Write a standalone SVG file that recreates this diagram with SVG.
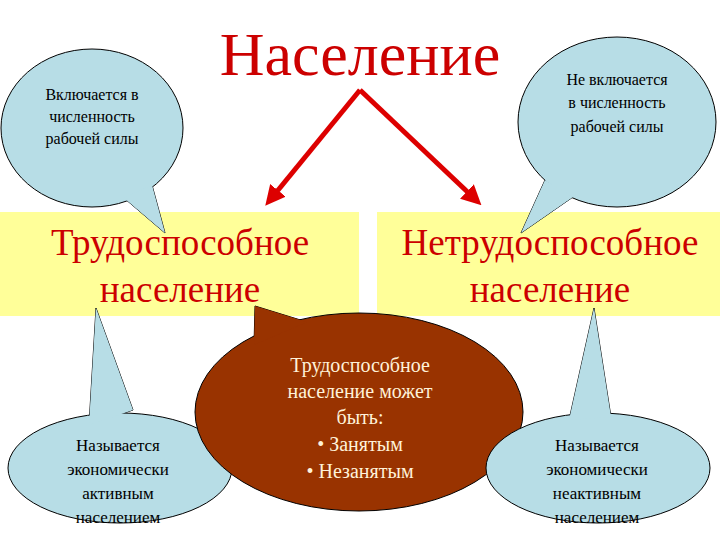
<svg xmlns="http://www.w3.org/2000/svg" width="720" height="540" viewBox="0 0 720 540" font-family="'Liberation Serif', 'Times New Roman', Tinos, 'DejaVu Serif', serif">
<defs>
<style>
text{font-family:'Liberation Serif','Times New Roman',Tinos,'DejaVu Serif',serif}
.t{text-anchor:middle}
.blue{fill:#b7dde6;stroke:#000;stroke-width:1}
.bluef{fill:#b7dde6}
.brown{fill:#993300;stroke:#000;stroke-width:1}
.brownf{fill:#993300}
.yel{fill:#ffff99}
.red{fill:#cc0000}
.arr{stroke:#dd0000;stroke-width:5;fill:none}
</style>
<marker id="ah" markerWidth="4" markerHeight="4" refX="2.5" refY="2" orient="auto"><path d="M0,0 L4,2 L0,4 Z" fill="#dd0000"/></marker>
</defs>
<rect width="720" height="540" fill="#fff"/>
<g id="box-left"><rect class="yel" x="0" y="212" width="359" height="104"/>
<text class="t red" x="180" y="255" font-size="37">Трудоспособное</text>
<text class="t red" x="180" y="302" font-size="37">население</text></g>
<g id="box-right"><rect class="yel" x="377" y="212" width="343" height="104"/>
<text class="t red" x="550" y="255" font-size="37">Нетрудоспособное</text>
<text class="t red" x="550" y="302" font-size="37">население</text></g>
<g id="title"><text class="t red" x="360" y="75" font-size="62">Население</text></g>
<g id="connectors">
<path class="arr" d="M360,90 L270,200" marker-end="url(#ah)"/>
<path class="arr" d="M360,90 L476,200" marker-end="url(#ah)"/>
</g>
<g id="callout-tl">
<polygon class="blue" points="124,198 165,233 152,185"/>
<ellipse class="blue" cx="92" cy="128" rx="91" ry="79"/>
<polygon class="bluef" points="124,198 165,233 152,185"/>
<text class="t" x="92" y="100" font-size="16">Включается в</text>
<text class="t" x="92" y="122" font-size="16">численность</text>
<text class="t" x="92" y="144" font-size="16">рабочей силы</text>
</g>
<g id="callout-tr">
<polygon class="blue" points="573,197 521,233 545,180"/>
<ellipse class="blue" cx="617" cy="122" rx="99" ry="85"/>
<polygon class="bluef" points="573,197 521,233 545,180"/>
<text class="t" x="617" y="85" font-size="16">Не включается</text>
<text class="t" x="617" y="108" font-size="16">в численность</text>
<text class="t" x="617" y="132" font-size="16">рабочей силы</text>
</g>
<g id="callout-bl">
<polygon class="blue" points="89,425 96,308 133,410"/>
<ellipse class="blue" cx="120" cy="468" rx="112" ry="55"/>
<polygon class="bluef" points="89,425 96,308 133,410"/>
<text class="t" x="118" y="451" font-size="17">Называется</text>
<text class="t" x="118" y="475" font-size="17">экономически</text>
<text class="t" x="118" y="499" font-size="17">активным</text>
<text class="t" x="118" y="523" font-size="17">населением</text>
</g>
<g id="callout-center">
<polygon class="brown" points="254,345 255,306 307,322"/>
<ellipse class="brown" cx="359" cy="412" rx="164" ry="99"/>
<polygon class="brownf" points="254,345 255,306 307,322"/>
<g class="t" font-size="20" fill="#fff2d9">
<text x="360" y="372">Трудоспособное</text>
<text x="360" y="398">население может</text>
<text x="360" y="424">быть:</text>
<text x="360" y="451">• Занятым</text>
<text x="360" y="478">• Незанятым</text>
</g>
</g>
<g id="callout-br">
<polygon class="blue" points="569,420 594,308 611,417"/>
<ellipse class="blue" cx="598" cy="468" rx="112" ry="55"/>
<polygon class="bluef" points="569,420 594,308 611,417"/>
<text class="t" x="597" y="451" font-size="17">Называется</text>
<text class="t" x="597" y="475" font-size="17">экономически</text>
<text class="t" x="597" y="499" font-size="17">неактивным</text>
<text class="t" x="597" y="523" font-size="17">населением</text>
</g>
</svg>
